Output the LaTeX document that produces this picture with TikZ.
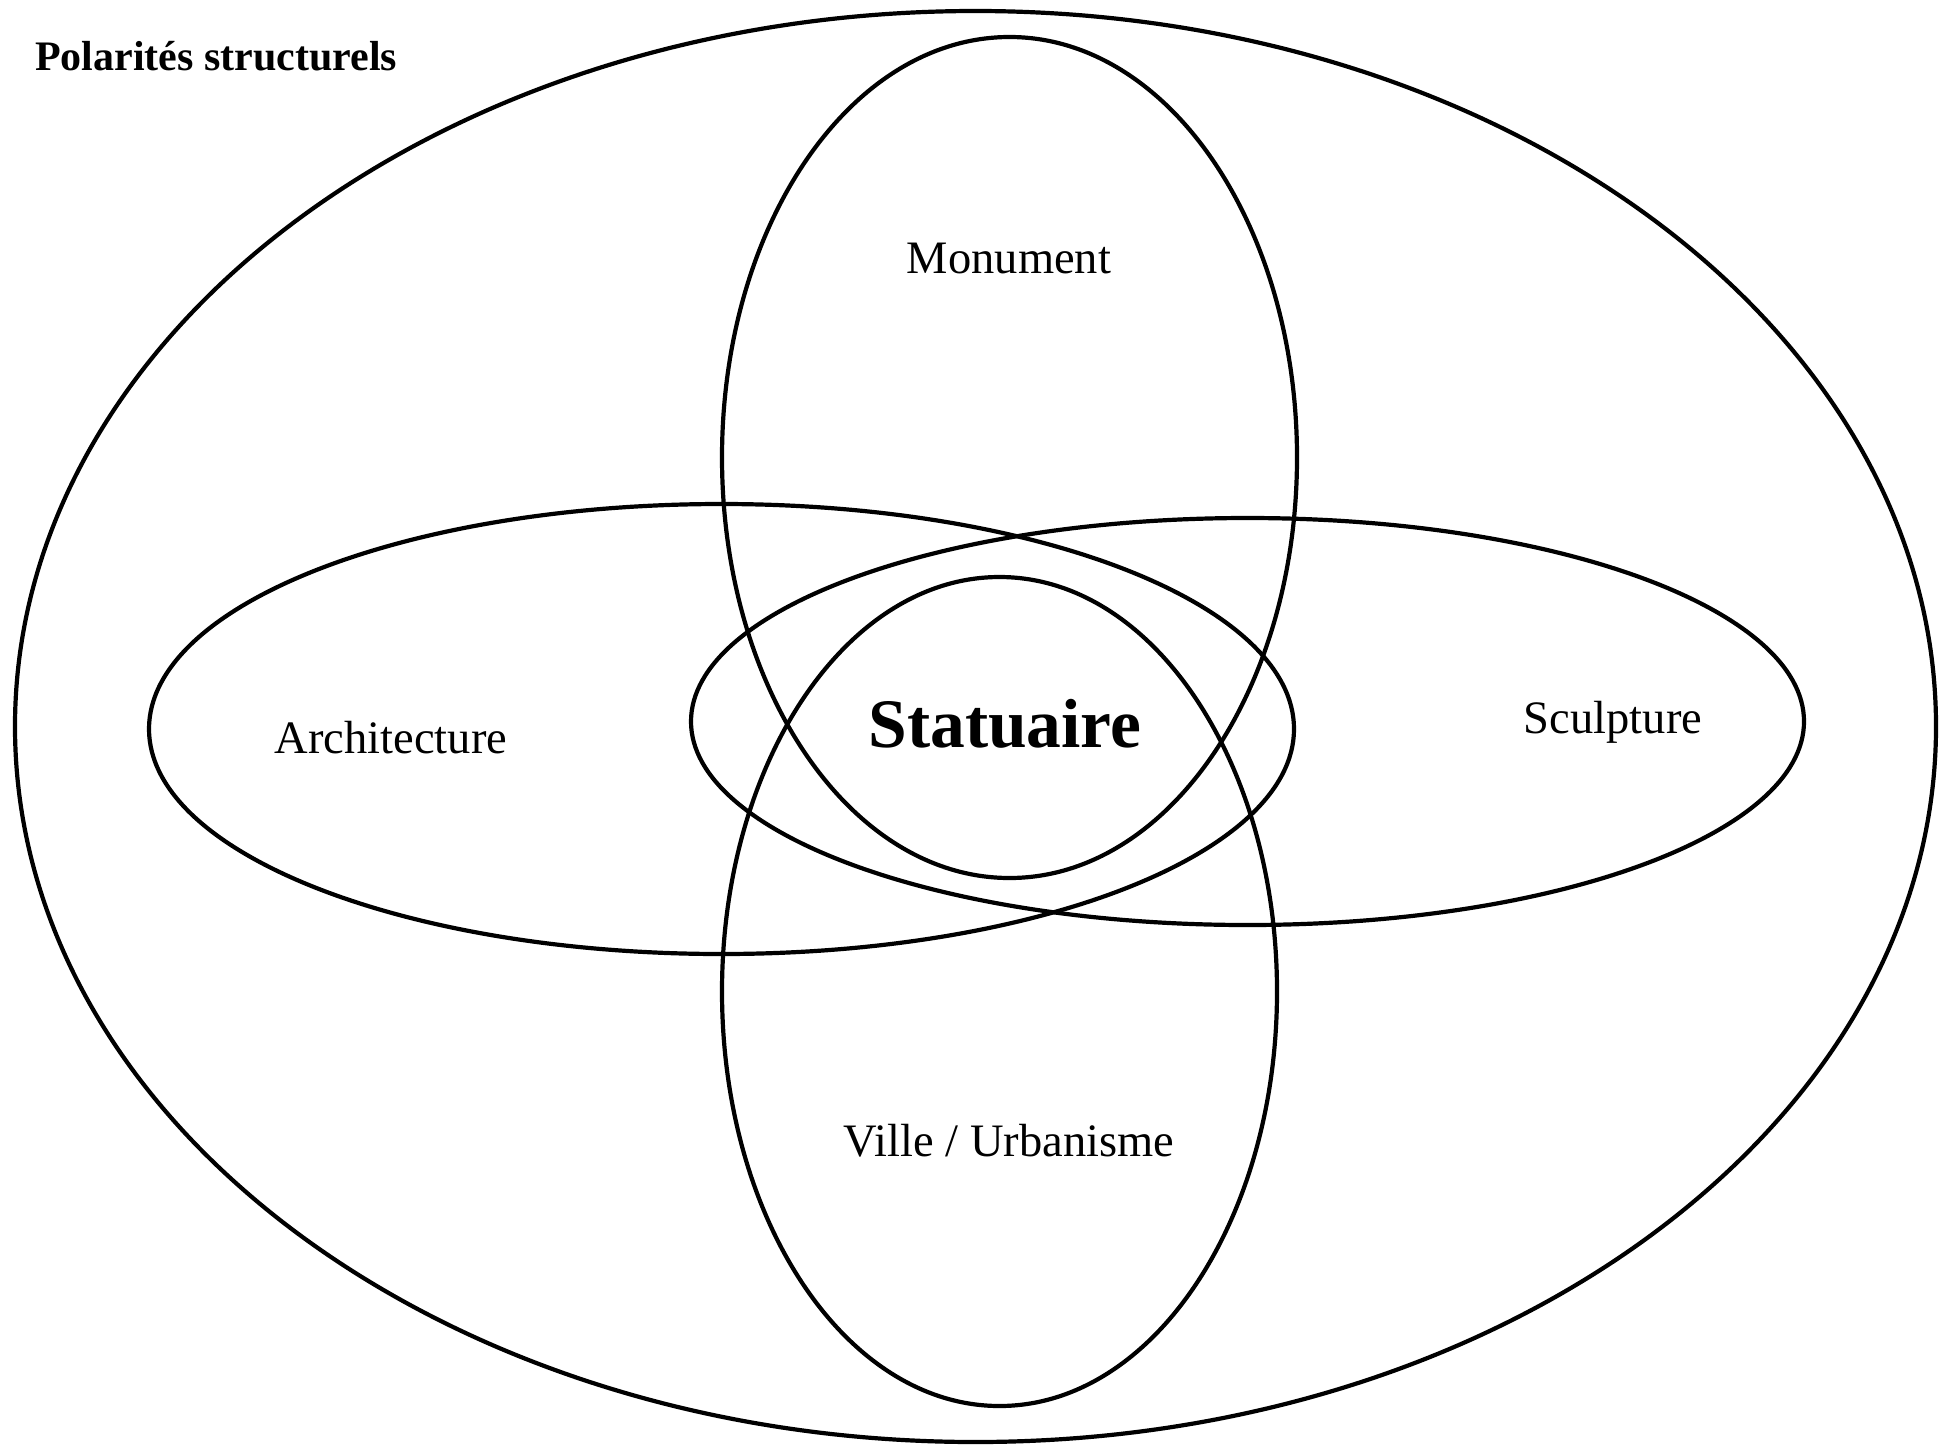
\documentclass[tikz,border=0pt]{standalone}
\usepackage{fontspec}
\setmainfont{Liberation Serif}
\usetikzlibrary{shapes.geometric}
\tikzset{
  ring/.style={draw=black, line width=4.2pt, ellipse, inner sep=0pt, outer sep=0pt},
  lbl/.style={inner sep=0pt, font=\fontsize{46.5}{50}\selectfont},
}
\begin{document}
\begin{tikzpicture}[x=1pt,y=-1pt]
\useasboundingbox (0,0) rectangle (1951,1446);
% outer ellipse
\node[ring, minimum width=1921pt, minimum height=1431pt] (outer) at (975.5,726.5) {};
% four ellipses
\node[ring, minimum width=575pt, minimum height=841pt] (monument) at (1009.5,457.5) {};
\node[ring, minimum width=555pt, minimum height=829pt] (ville) at (999.5,991.5) {};
\node[ring, minimum width=1145pt, minimum height=450pt] (archi) at (721.5,729) {};
\node[ring, minimum width=1113pt, minimum height=407pt] (sculpt) at (1247.5,721.5) {};
% labels
\node[anchor=west, inner sep=0pt, font=\bfseries\fontsize{42}{46}\selectfont] (title) at (35,56) {Polarités structurels};
\node[lbl] (tmon) at (1009,258) {Monument};
\node[lbl] (tarch) at (391,738) {Architecture};
\node[lbl] (tsculpt) at (1613,722) {Sculpture};
\node[lbl] (tville) at (1009,1141) {Ville / Urbanisme};
\node[inner sep=0pt, font=\bfseries\fontsize{69.5}{74}\selectfont] (tstat) at (1005,724) {Statuaire};
\end{tikzpicture}
\end{document}
